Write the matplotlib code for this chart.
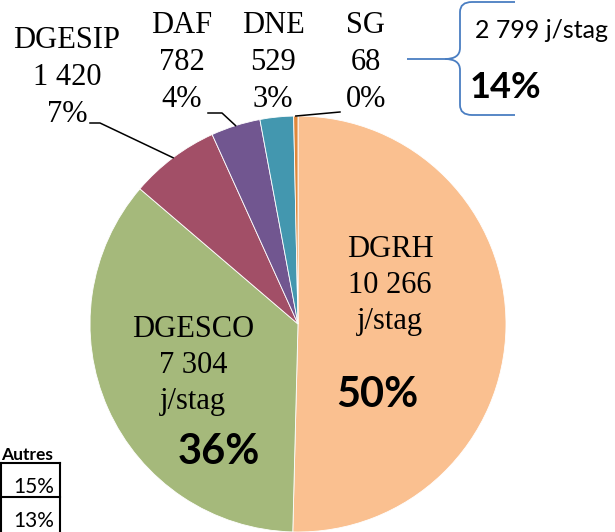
import matplotlib
matplotlib.use('Agg')
import matplotlib.pyplot as plt
from matplotlib.path import Path
from matplotlib.patches import PathPatch
import numpy as np

# ---- data ----
categories = ['DGRH', 'DGESCO', 'DGESIP', 'DAF', 'DNE', 'SG']
values = [10266, 7304, 1420, 782, 529, 68]
value_labels = ['10 266', '7 304', '1 420', '782', '529', '68']
pct_labels = ['50%', '36%', '7%', '4%', '3%', '0%']
colors = ['#FAC090', '#A5B97B', '#A24F67', '#715690', '#4397AF', '#E0883A']
unit_label = 'j/stag'
others_total_label = '2 799 j/stag'
others_pct_label = '14%'
table_header = 'Autres'
table_values = ['15%', '13%']

W, H = 615, 532
fig = plt.figure(figsize=(W / 100, H / 100), dpi=100)
ax = fig.add_axes([0, 0, 1, 1])


def Y(py):
    return H - py


center = (298, Y(324))
R = 208
wedges, _ = ax.pie(values, colors=colors, startangle=90, counterclock=False,
                   center=center, radius=R,
                   wedgeprops=dict(edgecolor='white', linewidth=0.6))
ax.set_xlim(0, W)
ax.set_ylim(0, H)
ax.set_aspect('equal')
ax.axis('off')

serif = dict(family='Liberation Serif', fontsize=22, color='black')
boldsans = dict(family=['Lato', 'DejaVu Sans'], fontweight='bold', color='black')


def edge_point(w):
    a = np.deg2rad((w.theta1 + w.theta2) / 2)
    return center[0] + R * np.cos(a), center[1] + R * np.sin(a)


def stack(x, baselines, lines):
    for b, t in zip(baselines, lines):
        ax.text(x, Y(b), t, ha='center', va='baseline', **serif)


# inside labels
stack(390, [257, 293, 329], [categories[0], value_labels[0], unit_label])
ax.text(377, Y(395), pct_labels[0], ha='center', va='center', fontsize=30, **boldsans)
stack(193, [337, 373, 409], [categories[1], value_labels[1], unit_label])
ax.text(219, Y(452), pct_labels[1], ha='center', va='center', fontsize=30, **boldsans)

# outside labels
stack(67, [48, 85, 122], [categories[2], value_labels[2], pct_labels[2]])
stack(182, [33, 70, 107], [categories[3], value_labels[3], pct_labels[3]])
stack(273, [33, 70, 107], [categories[4], value_labels[4], pct_labels[4]])
stack(366, [33, 70, 107], [categories[5], value_labels[5], pct_labels[5]])

# leader lines
ex, ey = edge_point(wedges[2])
ax.plot([90, 100, ex], [Y(123), Y(123), ey], color='black', lw=1.1)
ex, ey = edge_point(wedges[3])
ax.plot([208, 222, ex], [Y(113), Y(113), ey], color='black', lw=1.1)
ex, ey = edge_point(wedges[5])
ax.plot([ex, 340], [ey, Y(112)], color='black', lw=1.1)

# brace
bc = '#4A7EC2'
verts = [(515, 2), (472, 2), (460, 2), (460, 12), (460, 48), (460, 59), (445, 59), (407, 59)]
codes = [Path.MOVETO, Path.LINETO, Path.CURVE3, Path.CURVE3, Path.LINETO, Path.CURVE3, Path.CURVE3, Path.LINETO]
verts2 = [(445, 59), (460, 59), (460, 70), (460, 105), (460, 115), (472, 115), (515, 115)]
codes2 = [Path.MOVETO, Path.CURVE3, Path.CURVE3, Path.LINETO, Path.CURVE3, Path.CURVE3, Path.LINETO]
for v, c in ((verts, codes), (verts2, codes2)):
    p = Path([(x, Y(y)) for x, y in v], c)
    ax.add_patch(PathPatch(p, facecolor='none', edgecolor=bc, lw=1.3))
ax.text(475, Y(38), others_total_label, ha='left', va='baseline',
        family=['Lato', 'DejaVu Sans'], fontsize=18, color='black')
ax.text(470, Y(98), others_pct_label, ha='left', va='baseline', fontsize=26, **boldsans)

# partial table bottom-left
ax.text(53, Y(460), table_header, ha='right', va='baseline', fontsize=12.5, **boldsans)
for yb, t in zip([493, 527], table_values):
    ax.text(54, Y(yb), t, ha='right', va='baseline', family=['Lato', 'DejaVu Sans'],
            fontsize=15, color='black')
ax.plot([0, 60], [Y(463), Y(463)], color='black', lw=1.5)
ax.plot([0, 60], [Y(497), Y(497)], color='black', lw=1.5)
ax.plot([60, 60], [Y(463), Y(532)], color='black', lw=1.5)
ax.plot([1, 1], [Y(463), Y(532)], color='black', lw=1.5)

fig.savefig('out.png', dpi=100)
